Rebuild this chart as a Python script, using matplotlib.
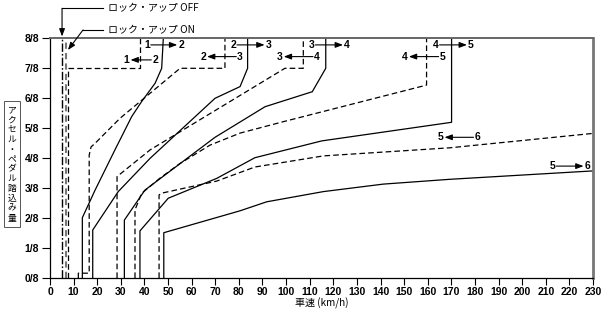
import matplotlib
matplotlib.use("Agg")
import matplotlib.pyplot as plt

# shift lines: speed (km/h) vs accelerator opening (eighths)
up12_v = [13.7, 13.7, 19.1, 27.5, 34.6, 38.8, 44.5, 47.3, 48.0]
up12_t = [0, 2.01, 2.93, 4.27, 5.38, 5.88, 6.49, 6.99, 8]
up23_v = [18.1, 18.1, 28.9, 42.4, 69.9, 80.5, 83.7, 83.7]
up23_t = [0, 1.6, 2.88, 3.99, 5.99, 6.38, 6.99, 8]
up34_v = [31.5, 31.5, 40.2, 69.9, 91.1, 111.1, 116.8, 116.8]
up34_t = [0, 1.93, 2.93, 4.69, 5.71, 6.21, 6.99, 8]
up45_v = [38.1, 38.1, 50.1, 70.6, 86.8, 115.1, 170.1, 170.1]
up45_t = [0, 1.57, 2.66, 3.32, 4.01, 4.57, 5.19, 8]
up56_v = [48.2, 48.2, 80.5, 91.8, 115.8, 141.2, 169.4, 230]
up56_t = [0, 1.51, 2.24, 2.54, 2.88, 3.13, 3.29, 3.57]

dn21_v = [7.5, 7.5, 38.1, 38.1]
dn21_t = [0, 7.0, 7.0, 8]
dn32_v = [12.0, 12.0, 16.6, 16.6, 17.4, 19.1, 29.6, 55.1, 74.1, 74.1]
dn32_t = [0, 0.16, 0.16, 4.1, 4.37, 4.49, 5.32, 6.99, 6.99, 8]
dn43_v = [28.4, 28.4, 30.9, 42.4, 99.5, 107.3, 107.3]
dn43_t = [0, 3.38, 3.54, 4.27, 6.99, 6.99, 8]
dn54_v = [36.0, 36.0, 38.8, 46.6, 55.1, 67.8, 80.5, 98.8, 159.5, 159.5]
dn54_t = [0, 2.27, 2.82, 3.33, 3.82, 4.43, 4.83, 5.21, 6.43, 8]
dn65_v = [46.2, 46.2, 47.4, 70.6, 86.8, 115.8, 169.4, 230]
dn65_t = [0, 2.77, 2.83, 3.23, 3.7, 4.07, 4.34, 4.82]

lockup_off_v = 5.2
lockup_on_v = 6.6

x_ticks = list(range(0, 240, 10))
y_ticks = list(range(0, 9))
y_ticklabels = [f"{i}/8" for i in y_ticks]

# shift labels: left gear, right gear, x of left, x of right, y, arrow points right?
shift_labels = [
    ("1", "2", 41.1, 55.5, 7.77, True),
    ("1", "2", 32.5, 44.5, 7.27, False),
    ("2", "3", 77.6, 92.5, 7.77, True),
    ("2", "3", 64.9, 80.5, 7.38, False),
    ("3", "4", 110.8, 125.7, 7.77, True),
    ("3", "4", 97.4, 113.0, 7.38, False),
    ("4", "5", 163.4, 178.2, 7.77, True),
    ("4", "5", 150.4, 166.2, 7.38, False),
    ("5", "6", 165.5, 181.0, 4.69, False),
    ("5", "6", 212.9, 227.6, 3.73, True),
]

NUM_FONT = "Liberation Sans"
JP_FONT = ["Noto Sans CJK JP", "DejaVu Sans"]
ARROW = "-|>,head_length=0.45,head_width=0.17"

fig = plt.figure(figsize=(6.05, 3.15), dpi=100)
ax = fig.add_axes([50 / 605, 1 - 278 / 315, 543 / 605, 240 / 315])

dash = (0, (4.5, 2.5))
for v, t in [(up12_v, up12_t), (up23_v, up23_t), (up34_v, up34_t),
             (up45_v, up45_t), (up56_v, up56_t)]:
    ax.plot(v, t, color="black", lw=0.9, solid_joinstyle="miter")
for v, t in [(dn21_v, dn21_t), (dn32_v, dn32_t), (dn43_v, dn43_t),
             (dn54_v, dn54_t), (dn65_v, dn65_t)]:
    ax.plot(v, t, color="black", lw=0.9, linestyle=dash)

ax.plot([lockup_off_v, lockup_off_v], [0, 8], color="black", lw=1.0,
        linestyle=(0, (6, 1.5, 1.2, 1.5)))
ax.plot([lockup_on_v, lockup_on_v], [0, 8], color="#777777", lw=1.5,
        linestyle=(0, (3, 2)))

ax.set_xlim(0, 230)
ax.set_ylim(0, 8)
ax.set_xticks(x_ticks)
ax.set_xticklabels([str(x) for x in x_ticks], fontfamily=NUM_FONT,
                   fontweight="bold", fontsize=7.5)
ax.set_yticks(y_ticks)
ax.set_yticklabels(y_ticklabels, fontfamily=NUM_FONT, fontweight="bold",
                   fontsize=7.5)
ax.tick_params(axis="y", length=6, width=0.8, pad=2)
ax.tick_params(axis="x", length=5, width=0.8, pad=1.5)

for s in ["left", "bottom"]:
    ax.spines[s].set_linewidth(0.9)
ax.spines["top"].set_color("#666666")
ax.spines["top"].set_linewidth(1.4)
ax.spines["right"].set_color("#777777")
ax.spines["right"].set_linewidth(2.0)

# shift labels with arrows
gap = 1.6
for a, b, xl, xr, y, right in shift_labels:
    kw = dict(fontfamily=NUM_FONT, fontweight="bold", fontsize=7.5,
              ha="center", va="center")
    ax.text(xl, y, a, **kw)
    ax.text(xr, y, b, **kw)
    start, end = (xl + gap, xr - gap) if right else (xr - gap, xl + gap)
    ax.annotate("", xy=(end, y), xytext=(start, y),
                arrowprops=dict(arrowstyle=ARROW, lw=0.8, color="black",
                                shrinkA=0, shrinkB=0))

# lock-up call-outs
ax.plot([22.4, lockup_off_v - 0.1], [8.99, 8.99], color="black", lw=0.8,
        clip_on=False)
ax.annotate("", xy=(lockup_off_v - 0.1, 8.05), xytext=(lockup_off_v - 0.1, 8.99),
            annotation_clip=False,
            arrowprops=dict(arrowstyle=ARROW, lw=0.8, color="black",
                            shrinkA=0, shrinkB=0))
ax.text(24.4, 8.99, "ロック・アップ OFF", fontfamily=JP_FONT, fontsize=7.2,
        ha="left", va="center", clip_on=False)
ax.plot([22.4, 14.0], [8.27, 8.27], color="black", lw=0.8, clip_on=False)
ax.annotate("", xy=(7.6, 7.6), xytext=(14.0, 8.27), annotation_clip=False,
            arrowprops=dict(arrowstyle=ARROW, lw=0.8, color="black",
                            shrinkA=0, shrinkB=0))
ax.text(24.4, 8.27, "ロック・アップ ON", fontfamily=JP_FONT, fontsize=7.2,
        ha="left", va="center", clip_on=False)

fig.text(322 / 605, 1 - 303 / 315, "車速 (km/h)", fontfamily=JP_FONT,
         fontsize=7.2, ha="center", va="center")
fig.text(12 / 605, 1 - 164 / 315, "\n".join("アクセル・ペダル踏込み量"),
         fontfamily=JP_FONT, fontsize=6.3, ha="center", va="center",
         linespacing=1.12,
         bbox=dict(boxstyle="square,pad=0.45", fc="white", ec="#555555", lw=0.7))

fig.savefig("out.png", dpi=100)
